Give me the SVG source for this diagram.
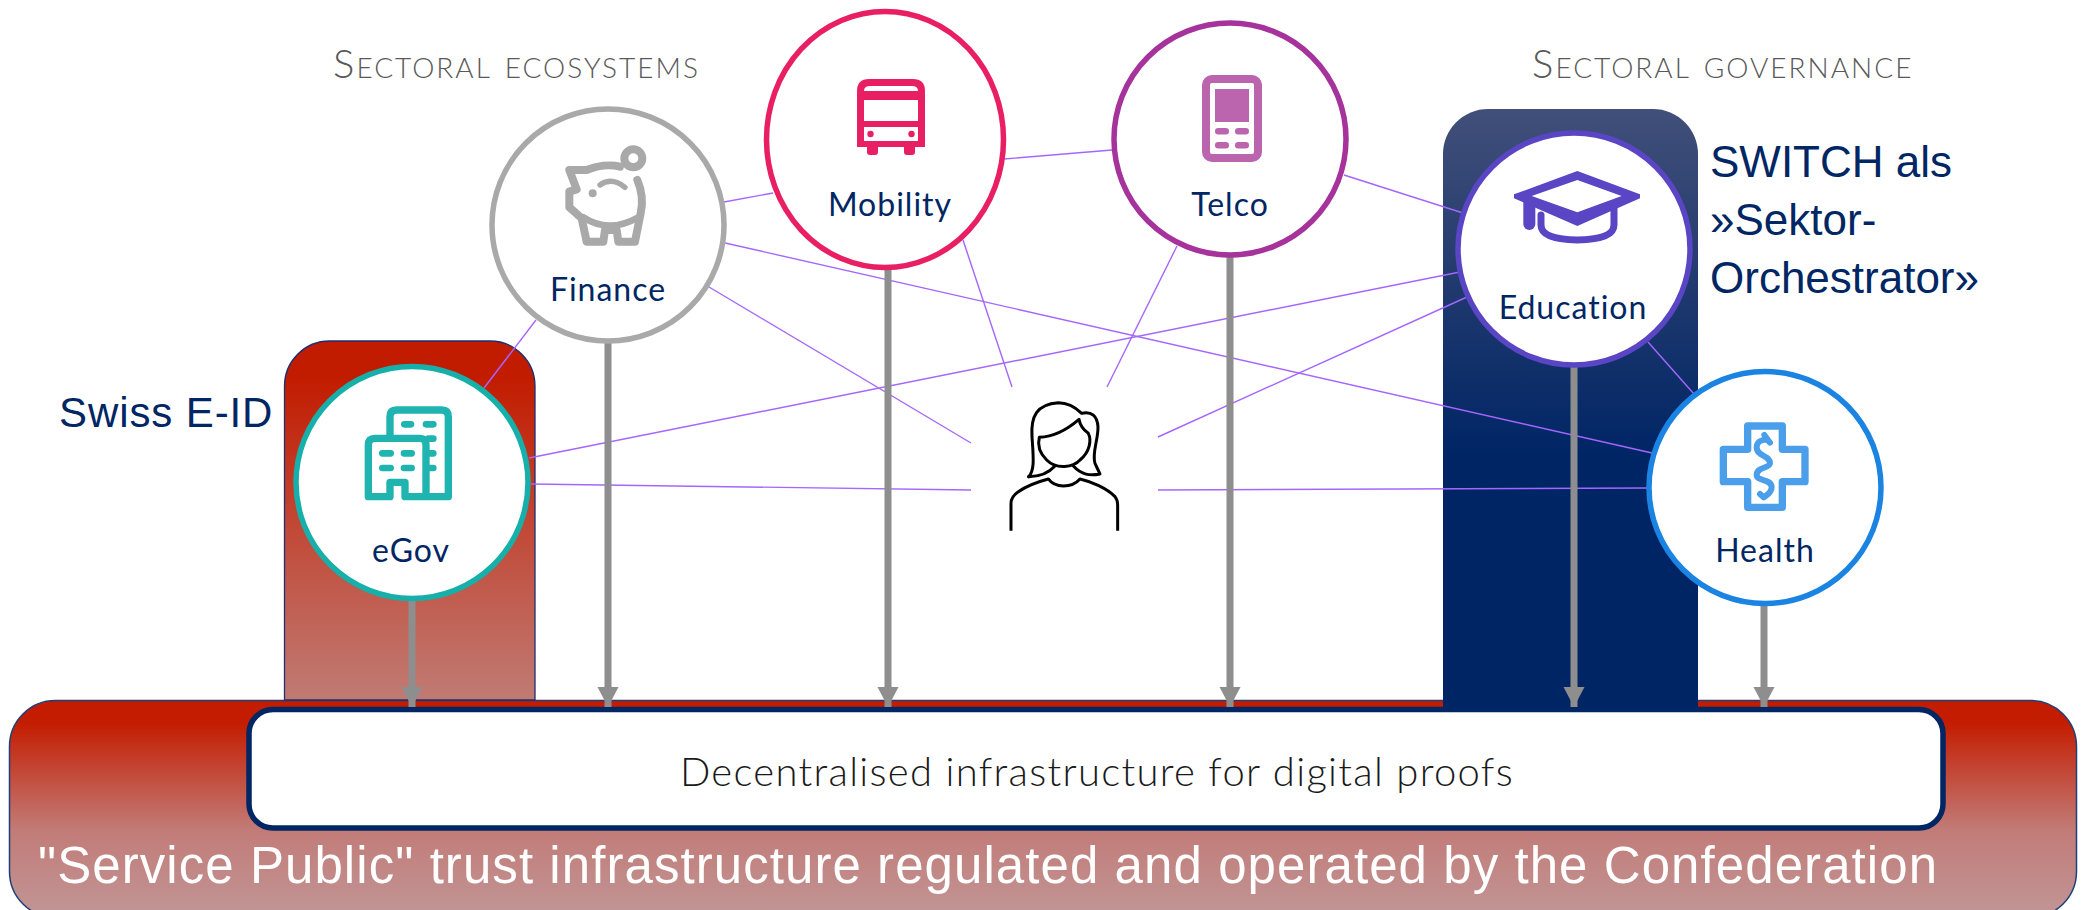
<svg xmlns="http://www.w3.org/2000/svg" width="2085" height="910" viewBox="0 0 2085 910">
<style>
.lbl{font-family:Lato,"Noto Sans",sans-serif;font-size:32px;letter-spacing:1px;fill:#002664;text-anchor:middle}
.hdr{font-family:Lato,"Noto Sans",sans-serif;font-weight:300;font-size:40px;letter-spacing:2px;font-variant:small-caps;fill:#595959}
.ar{font-family:"Liberation Sans",Arial,sans-serif;fill:#002664;font-size:44px}
.link{stroke:#A566FF;stroke-width:1.4;fill:none}
.arrow{stroke:#8E8E8E;stroke-width:7;fill:none;marker-end:url(#ah)}
.ring{fill:#fff;stroke-width:5.5}
.ico{fill:none;stroke-linejoin:round;stroke-linecap:round}
</style>
<defs>
<marker id="ah" markerUnits="userSpaceOnUse" markerWidth="22" markerHeight="22" refX="20" refY="10.5" orient="auto"><path d="M0,0L20,10.5L0,21Z" fill="#8E8E8E"/></marker>
<linearGradient id="gr1" x1="0" y1="0" x2="0" y2="1"><stop offset="0" stop-color="#C41C00"/><stop offset="0.1" stop-color="#C41C00"/><stop offset="0.6" stop-color="#C27C78"/><stop offset="1" stop-color="#C09696"/></linearGradient>
<linearGradient id="gr2" x1="0" y1="0" x2="0" y2="1"><stop offset="0" stop-color="#C21C00"/><stop offset="0.1" stop-color="#C21C00"/><stop offset="1" stop-color="#C07B74"/></linearGradient>
<linearGradient id="gb" x1="0" y1="0" x2="0" y2="1"><stop offset="0" stop-color="#414F79"/><stop offset="0.58" stop-color="#002565"/><stop offset="1" stop-color="#002565"/></linearGradient>
</defs>

<g id="trust-infrastructure">
<rect x="9.500" y="700.500" width="2067" height="217" rx="46" fill="url(#gr1)" stroke="#1F3F7A" stroke-width="1.500"/>
<text x="38" y="883" style="font-family:'Liberation Sans',Arial,sans-serif;font-size:51px;fill:#fff" textLength="1899" lengthAdjust="spacing">"Service Public" trust infrastructure regulated and operated by the Confederation</text>
</g>
<g id="swiss-eid">
<path d="M284.500,700V386a45,45 0 0 1 45,-45H490a45,45 0 0 1 45,45V700Z" fill="url(#gr2)" stroke="#1F2F70" stroke-width="1.300"/>
<text class="ar" x="59" y="427" style="font-size:42px;letter-spacing:.9px">Swiss E-ID</text>
</g>
<g id="sector-governance">
<path d="M1443,707V154a45,45 0 0 1 45,-45H1653a45,45 0 0 1 45,45V707Z" fill="url(#gb)"/>
<text class="ar" x="1710" y="177">SWITCH als</text>
<text class="ar" x="1710" y="235">»Sektor-</text>
<text class="ar" x="1710" y="293">Orchestrator»</text>
</g>
<g id="digital-proofs">
<rect x="249" y="709.500" width="1694" height="118.500" rx="24" fill="#fff" stroke="#002664" stroke-width="5.500"/>
<text x="1097" y="786" text-anchor="middle" style="font-family:Lato,'Noto Sans',sans-serif;font-weight:300;font-size:40px;letter-spacing:1.3px;fill:#1a1a1a">Decentralised infrastructure for digital proofs</text>
</g>
<text class="hdr" x="333" y="78">Sectoral ecosystems</text>
<text class="hdr" x="1532" y="78">Sectoral governance</text>

<g id="connectors">
<g id="links">
<line class="link" x1="724" y1="202" x2="773" y2="193"/>
<line class="link" x1="1004" y1="159" x2="1112" y2="150"/>
<line class="link" x1="1344" y1="175" x2="1463" y2="213"/>
<line class="link" x1="725" y1="243" x2="1652" y2="453"/>
<line class="link" x1="709" y1="287" x2="971" y2="443"/>
<line class="link" x1="536" y1="320" x2="484" y2="388"/>
<line class="link" x1="963" y1="240" x2="1012" y2="387"/>
<line class="link" x1="1177" y1="246" x2="1107" y2="387"/>
<line class="link" x1="1460" y1="272" x2="529" y2="458"/>
<line class="link" x1="1467" y1="297" x2="1158" y2="437"/>
<line class="link" x1="1648" y1="342" x2="1694" y2="394"/>
<line class="link" x1="531" y1="484" x2="971" y2="490"/>
<line class="link" x1="1158" y1="490" x2="1650" y2="488"/>
</g>
<g id="arrows">
<line class="arrow" x1="412" y1="600" x2="412" y2="707"/>
<line class="arrow" x1="608" y1="343" x2="608" y2="707"/>
<line class="arrow" x1="888" y1="269" x2="888" y2="707"/>
<line class="arrow" x1="1230" y1="256" x2="1230" y2="707"/>
<line class="arrow" x1="1574" y1="366" x2="1574" y2="707"/>
<line class="arrow" x1="1764" y1="605" x2="1764" y2="707"/>
</g>
</g>

<g id="finance">
<circle class="ring" cx="608" cy="225" r="116" stroke="#A9A9A9"/>
<g transform="translate(550,130) scale(.3333)" stroke="#A9A9A9">
<circle cx="250" cy="85" r="27" fill="none" stroke-width="24"/>
<path class="ico" stroke-width="24" d="M58,120H110C140,108 180,102 210,110M262,150C275,180 280,215 272,250L255,335H205L200,300H165L160,335H110L95,265L58,232V185L80,178L58,120"/>
<path class="ico" stroke-width="20" d="M100,262Q175,312 265,262"/>
<path class="ico" stroke-width="16" d="M150,165Q185,140 225,172"/>
<circle cx="128" cy="190" r="12" fill="#A9A9A9" stroke="none"/>
</g>
<text class="lbl" x="608" y="301">Finance</text>
</g>
<g id="mobility">
<ellipse class="ring" cx="885" cy="139.500" rx="118.500" ry="128" stroke="#E91F63"/>
<path fill="#E91F63" fill-rule="evenodd" d="M869,79H913Q925,79 925,91V147H915V152Q915,155 912,155H907Q904,155 904,152V147H878V152Q878,155 875,155H870Q867,155 867,152V147H857V91Q857,79 869,79ZM870,86Q864,86 864,91H918Q918,86 912,86ZM864,100V121H918V100ZM864,127V141H918V127Z"/>
<circle cx="870.500" cy="134" r="3.200" fill="#E91F63"/><circle cx="911.500" cy="134" r="3.200" fill="#E91F63"/>
<text class="lbl" x="890" y="216">Mobility</text>
</g>
<g id="telco">
<circle class="ring" cx="1230" cy="139" r="116" stroke="#A6329C"/>
<rect x="1206" y="79" width="52" height="79" rx="6" fill="none" stroke="#BA65AE" stroke-width="8"/>
<rect x="1215" y="89" width="34" height="33" fill="#BA65AE"/>
<g fill="#BA65AE"><rect x="1215" y="128" width="14" height="6.500" rx="3.200"/><rect x="1235" y="128" width="14" height="6.500" rx="3.200"/><rect x="1215" y="142" width="14" height="6.500" rx="3.200"/><rect x="1235" y="142" width="14" height="6.500" rx="3.200"/></g>
<text class="lbl" x="1230" y="216">Telco</text>
</g>
<g id="education">
<circle class="ring" cx="1574" cy="249" r="116" stroke="#5A45C4"/>
<g transform="translate(1500,160) scale(.3333)">
<path fill="#5A45C4" fill-rule="evenodd" d="M232,33L420,103V115L232,198L42,115V103ZM232,60L95,108L232,157L365,108Z"/>
<path class="ico" stroke="#5A45C4" stroke-width="21" d="M123,165V195Q123,238 232,240Q342,238 342,195V140"/>
<path class="ico" stroke="#5A45C4" stroke-width="36" d="M88,125V192"/>
</g>
<text class="lbl" x="1573" y="319">Education</text>
</g>
<g id="health">
<circle class="ring" cx="1765" cy="487.500" r="116" stroke="#1B84E3"/>
<g transform="translate(1705,410) scale(.3333)" stroke="#4B9FEA">
<path class="ico" stroke-width="22" d="M128,48H232V118H300V215H232V292H128V215H55V118H128Z"/>
<path class="ico" stroke-width="18" d="M178,75L195,98C185,82 155,90 155,112C155,140 195,135 195,160C195,175 155,170 155,195C155,215 200,205 200,232C200,250 185,255 176,262L165,252"/>
</g>
<text class="lbl" x="1765" y="562">Health</text>
</g>
<g id="egov">
<circle class="ring" cx="412" cy="482.500" r="116" stroke="#17AFA9"/>
<g transform="translate(350,395) scale(.3333)" stroke="#1FB4AF">
<path class="ico" stroke-width="22" d="M120,125V65Q120,45 140,45H275Q295,45 295,65V305H165V262H120V305H55V150Q55,130 75,130H210Q228,130 228,150V305"/>
<path class="ico" stroke-width="20" d="M163,88H183M228,88H250M235,131H250M240,175H250M240,219H250M97,175H122M162,175H185M97,219H122M162,219H185"/>
</g>
<text class="lbl" x="411" y="562">eGov</text>
</g>
<g id="person">
<g transform="translate(960,380) scale(.3333)" fill="none" stroke="#000" stroke-width="9" stroke-linejoin="round" stroke-linecap="round">
<path d="M206,290C225,270 220,230 216,170C212,110 230,72 295,68C330,68 350,85 365,100C395,92 412,110 414,140C415,180 395,220 405,250L420,282C390,288 365,285 340,258"/>
<path d="M206,290C240,290 265,280 285,258"/>
<path d="M238,172C280,170 320,150 357,118C360,135 370,150 385,160C395,180 390,215 360,240C340,262 290,270 260,240C240,220 232,195 238,172Z"/>
<path stroke-linecap="butt" d="M153,452V370Q153,350 175,335C200,318 235,305 265,297C285,325 335,325 360,297C395,305 440,325 465,350Q473,360 473,375V452"/>
</g>
</g>
</svg>
